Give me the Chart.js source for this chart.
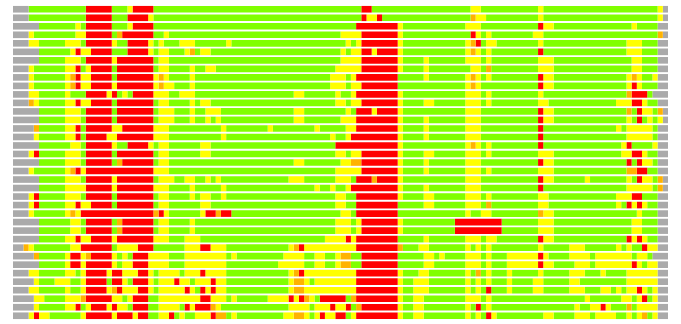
<!DOCTYPE html>
<html>
<head>
<meta charset="utf-8">
<script src="https://cdn.jsdelivr.net/npm/chart.js@4.4.0/dist/chart.umd.min.js"></script>
<style>
  html, body { margin: 0; padding: 0; background: #fff; }
</style>
</head>
<body>
<canvas id="grid" width="681" height="324"></canvas>
<script>
// one string per row: runs of <status><cell count>, 126 cells per row
// a = none, g = pass, y = warn, o = alert, r = fail
const rowRuns = [
  "a3 g11 r5 g3 y1 r4 g40 r2 g19 y2 g11 y1 g22 y1 a1",
  "a3 g11 r5 g3 r4 y1 g40 r1 y2 r1 g17 o1 y2 g10 y1 g22 y1 a1",
  "a5 g7 y1 g1 r5 g3 y1 r4 g39 r8 y1 g12 y3 g11 r1 y2 g15 y1 g4 a2",
  "a3 y1 g8 y2 r5 g1 o1 r6 g2 y1 g33 y4 r7 y1 g13 r1 y1 g1 y1 g8 y2 g22 o1 a1",
  "a3 y2 g5 y3 g1 r5 y1 g2 r4 y1 g1 y1 g3 y3 g6 y1 g22 y1 g1 y1 r7 y1 g12 y1 o1 r1 g1 y2 g8 y1 g16 y3 g3 a2",
  "a5 g6 y1 r1 y2 r4 g3 r4 y1 g1 y2 g3 y1 o1 g1 y2 g25 y1 g1 y2 r2 y1 r4 y1 g12 y1 o1 y1 g1 y1 g9 r1 g16 y3 g3 a2",
  "a5 g5 y3 g1 r5 y1 r7 g1 y2 g33 y4 r7 y1 g4 y1 g7 y3 g1 y1 g9 y3 g15 y2 g3 a2",
  "a3 y1 g6 y2 r1 g1 y1 r4 g1 r7 g1 y2 g4 y1 g2 y2 g23 y5 r7 y1 g4 y1 g8 y2 g1 o1 g9 y3 g15 y2 g3 a2",
  "a3 y1 g6 y1 o1 r1 y2 r4 g1 r7 y1 o1 y1 g4 y1 g26 y3 g1 y1 r8 g5 y1 g7 y1 o1 y1 g1 y1 g9 r1 y2 g14 y1 o1 y1 g2 y1 a2",
  "a3 y1 g6 y1 o1 r1 y2 r4 y1 r7 y1 o1 y2 g3 y1 g26 y3 g1 y2 r7 g13 y1 o1 y1 g11 r1 y2 g14 y1 r1 y1 g3 a2",
  "a3 y2 g5 y1 g3 r4 y1 r1 g1 y1 g1 r4 y3 g2 y3 g19 y2 g6 y1 g2 y1 r8 y1 g12 y3 g1 y1 g9 y1 g16 o1 r3 g1 a3",
  "a3 o1 y1 g5 y2 r1 y2 r4 g1 r7 g1 y2 g4 y1 g1 y2 g24 y2 g1 y2 r7 y1 g4 y2 g6 y3 g1 y1 g9 y2 g13 y3 r2 y1 g2 a2",
  "a5 g5 y3 g1 r5 g1 r7 g1 y3 g3 y1 g2 y3 g14 y2 g8 y1 g1 r3 y1 r4 y1 g12 y3 g11 r1 y2 g14 o1 g1 r1 y2 g1 o1 a1",
  "a5 g5 y3 g1 r5 g1 r7 g1 y3 g3 y1 g2 y1 g1 y1 g14 y2 g7 y3 r8 y1 g4 y1 g7 y3 g11 r1 y2 g14 y1 g1 r1 g1 y1 g1 y1 a1",
  "a4 o1 g5 y2 r1 g1 r5 y2 r6 y3 g10 y1 g8 y1 g8 y1 g5 y2 r8 y1 g4 y1 g7 y3 g11 r1 g14 y1 g1 y5 g1 a2",
  "a4 y1 g5 y2 r1 g1 r4 y2 r7 y3 g10 y1 g20 y1 g2 y1 r9 y1 g4 y1 g7 y3 g11 r1 g16 y5 g1 a2",
  "a5 g6 y2 g1 r5 y1 g2 r4 y1 g1 y2 g6 y2 g24 r12 y1 g12 y1 o1 y1 g1 y1 g9 r1 g15 y1 r1 g4 y1 a2",
  "a3 y1 r1 g5 y3 g1 r5 g1 r7 g1 y2 g6 y2 g24 y2 g1 y2 r7 y1 g4 y2 g6 y3 g1 y1 g9 y3 g13 y2 r2 y1 g2 a2",
  "a5 g5 y3 g1 r5 g1 o1 r6 g1 y2 g24 y2 g7 y2 o2 r7 y1 g4 y1 g7 y3 g11 r1 y2 g14 r1 g1 r1 y2 g1 a2",
  "a3 y1 g6 y1 o1 r1 y1 r13 y3 g32 y5 r7 y1 g4 y1 g7 y3 g1 y1 g9 y3 g14 o2 r2 g2 a2",
  "a5 g5 y3 g1 r5 y1 r7 g1 y3 g2 y2 g2 y1 g1 y1 g13 y3 g6 y3 g1 r3 o1 r4 y1 g12 y3 g11 r1 y2 g6 y1 g7 y1 g1 r1 y2 g1 o1 a1",
  "a5 g5 y4 r5 y1 r7 y3 g4 y1 g5 y1 g17 y1 g2 y1 g2 y1 r9 y1 g4 y1 g7 y3 g11 r1 g16 y5 g1 o1 a1",
  "a3 y1 r1 g5 y3 g1 r5 g1 r7 g1 y2 g4 y1 g1 y2 g2 y1 g21 y2 g2 r8 y1 g4 y2 g6 y3 g1 y1 g9 y2 g13 y3 r2 g3 a2",
  "a3 y1 r1 g5 y2 r1 y2 r4 g1 r7 g1 y2 g6 y2 g24 y2 g2 r8 g5 y2 g6 y3 g1 o1 g9 y2 g13 y1 g1 r1 y1 r1 y1 g2 a2",
  "a3 y1 g6 y1 o1 y1 r14 o1 r1 y1 g6 y1 r2 o1 r2 g21 y2 g1 r8 g13 y1 g2 y2 g9 o1 y2 g16 y1 g3 a2",
  "a5 g6 y2 g1 r5 g1 o1 r6 g1 y2 g4 y1 g27 y3 g1 y1 r7 y1 g10 r9 g7 y3 g15 y2 g3 a2",
  "a5 g6 y2 g1 r5 g1 o1 r6 g1 y2 g4 y1 g27 y3 g1 y1 r7 y1 g10 r9 g7 y3 g15 y2 g3 a2",
  "a5 g5 y2 r1 y2 r4 y1 r7 y3 g3 y3 g24 y4 r1 y1 r8 g5 y1 g7 y3 g1 y2 g8 r1 y2 g14 r1 y1 r1 y1 g2 a2",
  "a2 o1 y1 g7 y2 r6 g1 y4 r3 g6 y3 r2 y3 g12 y1 o1 r1 y10 r8 o1 g3 y2 g7 y1 g1 y1 g1 y1 g9 y1 g5 y3 g6 y1 g1 y1 g2 r1 y2 a2",
  "a4 o1 g5 y1 r2 y1 o1 r4 y1 g1 y1 g1 r3 y4 g3 y8 g1 y1 g9 y4 g2 y2 g2 y1 o2 g2 r7 g5 y2 g1 y1 g4 y3 g1 y1 g3 y6 r1 y1 g4 y4 g1 y7 g1 y2 g1 a3",
  "a5 g5 y1 r2 y1 r5 y1 g1 y2 r3 y4 g3 y8 g10 y5 g2 y2 g2 y1 o2 g2 r7 g5 y2 g6 y3 g1 y1 g3 y6 r1 y2 g4 y3 g1 y7 r1 y1 g1 y2 a2",
  "a3 y2 g5 y2 g1 y1 r4 y1 r2 y3 r2 y1 g1 y4 g1 y3 r1 y4 g12 y1 o1 r1 y10 r8 y1 g3 y2 g7 y1 g1 o1 g1 y1 g3 y1 g5 y1 g5 y3 g3 y1 g4 y6 a2",
  "a4 y1 g3 y3 g2 y1 r4 g1 r2 y1 g1 r3 y1 g1 y3 r1 y2 g1 y3 r1 y2 g12 y1 o2 y1 g1 y8 r8 y1 g2 y3 g7 y1 g1 y1 g1 y1 g3 y1 g4 y2 g5 y2 g9 y6 a2",
  "a3 y2 g5 y1 g2 y1 r4 y1 o1 r1 y3 r2 y1 g1 y5 r1 y1 g1 r1 y1 r1 y2 g12 y1 o2 y10 r8 y1 g2 y3 g7 y1 g1 y1 g1 r1 g3 y1 g4 y2 g5 y3 g3 y2 g1 y1 g1 y2 r1 y1 g1 y1 a2",
  "a4 y2 g4 y3 o1 r5 y2 g1 y1 r3 g2 y8 r2 y3 g1 y1 g6 y4 r1 y1 r1 o1 y1 g1 r5 g1 o1 r8 y1 g2 y2 g8 y3 g1 y1 g18 y1 g6 y2 g1 y1 r1 g1 y1 a2",
  "a4 y1 g5 y2 r1 g1 y1 r3 y1 r1 y2 g1 r3 g2 y4 g1 r1 y1 r3 o1 y1 g13 y4 g1 y3 r1 y2 r1 g1 o1 r7 y1 g2 y2 g8 y1 g1 r1 g1 y1 g16 y1 g2 y2 r1 y1 g3 o1 g1 y4 a2",
  "a3 y1 r1 y2 g6 y1 r5 y1 r3 y1 r2 g2 y2 r1 g1 y1 g2 y3 r1 o2 g1 y1 g9 y2 o2 y1 g1 y1 r1 y2 r2 g1 y1 r8 y1 g2 y2 g8 y1 g1 y1 g1 r1 y1 g9 y2 g4 y3 g1 y4 g2 y1 g1 y1 o1 g1 y1 a2"
];
const totalCells = 126;

const statusColors = {
  a: '#aaaaaa',
  g: '#80ff00',
  y: '#ffff00',
  o: '#ffb300',
  r: '#ff0000'
};

function parseRuns(text) {
  return text.split(' ').map(function (t) {
    return { status: t[0], count: Number(t.slice(1)) };
  });
}

const rows = rowRuns.map(parseRuns);
const rowLabels = rows.map(function (_, i) { return 'Row ' + (i + 1); });
const maxRuns = Math.max.apply(null, rows.map(function (r) { return r.length; }));

// dataset i holds the i-th run of every row, so the runs stack left to right
var datasets = [];
for (var i = 0; i < maxRuns; i++) {
  datasets.push({
    label: 'run ' + (i + 1),
    data: rows.map(function (r) { return r[i] ? r[i].count : null; }),
    backgroundColor: rows.map(function (r) { return r[i] ? statusColors[r[i].status] : 'rgba(0,0,0,0)'; }),
    borderWidth: 0,
    barPercentage: 0.78,
    categoryPercentage: 1
  });
}

var ctx = document.getElementById('grid').getContext('2d');
var gridChart = new Chart(ctx, {
  type: 'bar',
  data: {
    labels: rowLabels,
    datasets: datasets
  },
  options: {
    indexAxis: 'y',
    responsive: false,
    animation: false,
    layout: { padding: { left: 13, right: 13, top: 5, bottom: 4 } },
    plugins: {
      legend: { display: false },
      tooltip: { enabled: false }
    },
    scales: {
      x: { stacked: true, display: false, min: 0, max: totalCells },
      y: { stacked: true, display: false }
    }
  }
});
</script>
</body>
</html>
